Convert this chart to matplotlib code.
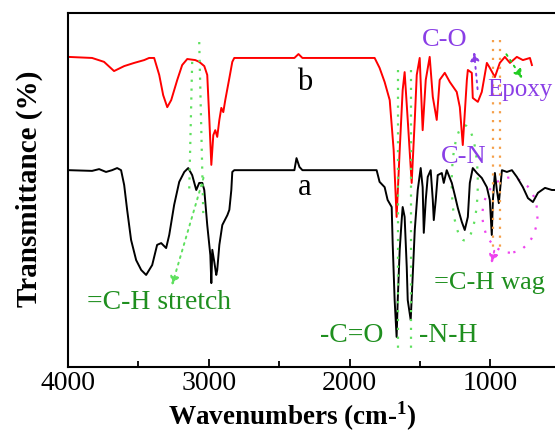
import numpy as np
import matplotlib
matplotlib.use("Agg")
import matplotlib.pyplot as plt
from matplotlib.patches import Ellipse

# ----------------------------
# Data (wavenumber, transmittance)
# ----------------------------
wn_b = [4000, 3829, 3744, 3673, 3601, 3530, 3459, 3424, 3388, 3352, 3324, 3295, 3267,
        3224, 3189, 3153, 3096, 3068, 3032, 3011, 2996, 2982, 2968, 2954, 2940, 2925,
        2911, 2897, 2883, 2854, 2833, 2819, 2392, 2363, 2335, 1822, 1787, 1751, 1715,
        1687, 1666, 1644, 1623, 1609, 1587, 1559, 1537, 1523, 1502, 1481, 1459, 1431,
        1409, 1381, 1360, 1324, 1288, 1239, 1217, 1196, 1167, 1160, 1132, 1125, 1089,
        1061, 1025, 1004, 968, 933, 897, 861, 812, 769, 719, 705]
tr_b = [87.6, 87.3, 86.2, 83.6, 85.0, 85.9, 86.7, 87.3, 87.3, 82.5, 76.8, 73.4, 75.4,
        81.1, 85.3, 87.0, 86.7, 86.2, 85.0, 82.5, 69.8, 57.1, 65.5, 66.9, 65.0, 69.8,
        73.2, 72.0, 75.4, 81.6, 86.2, 87.3, 87.3, 88.4, 87.3, 87.3, 84.5, 80.5, 75.4,
        61.3, 42.4, 61.3, 78.2, 83.3, 69.8, 52.0, 69.8, 82.5, 87.3, 66.9, 81.1, 87.6,
        76.3, 69.8, 81.1, 83.1, 80.5, 77.7, 73.4, 62.7, 81.1, 83.9, 83.1, 76.0, 74.9,
        77.7, 85.9, 84.5, 81.9, 85.9, 87.6, 85.9, 87.6, 86.7, 87.3, 85.3]

wn_a = [3993, 3829, 3779, 3730, 3687, 3651, 3623, 3601, 3580, 3552, 3516, 3480, 3445,
        3402, 3367, 3338, 3303, 3281, 3246, 3210, 3174, 3146, 3118, 3089, 3068, 3046,
        3032, 3011, 2989, 2982, 2975, 2961, 2947, 2940, 2925, 2904, 2868, 2854, 2840,
        2833, 2819, 2392, 2377, 2356, 2335, 1808, 1787, 1751, 1730, 1701, 1694, 1680,
        1666, 1658, 1644, 1630, 1623, 1609, 1594, 1587, 1566, 1552, 1537, 1516, 1495,
        1481, 1473, 1459, 1445, 1424, 1409, 1402, 1388, 1374, 1345, 1331, 1310, 1274,
        1253, 1231, 1203, 1182, 1160, 1146, 1125, 1096, 1061, 1025, 1004, 990, 982,
        968, 954, 940, 918, 883, 847, 812, 769, 733, 698, 662, 612, 563, 541]
tr_a = [55.6, 55.4, 55.9, 55.1, 55.6, 56.2, 55.6, 51.4, 44.4, 35.9, 30.2, 27.4, 26.0,
        28.8, 34.5, 35.0, 33.6, 37.3, 45.8, 52.3, 55.1, 56.2, 54.2, 50.0, 52.0, 52.0,
        50.0, 40.1, 31.6, 23.7, 33.1, 29.7, 26.0, 27.4, 34.5, 40.1, 42.9, 44.4, 50.0,
        55.1, 55.6, 55.6, 59.0, 56.5, 55.6, 55.6, 52.3, 50.8, 47.2, 45.2, 35.0, 18.9,
        8.5, 18.9, 33.1, 41.5, 45.2, 42.4, 28.2, 18.9, 13.3, 25.4, 38.7, 50.0, 56.2,
        50.8, 37.9, 47.2, 53.7, 55.6, 47.2, 41.5, 47.2, 54.2, 54.8, 52.0, 55.6, 52.0,
        48.6, 44.9, 41.0, 38.7, 42.4, 52.0, 56.2, 54.8, 53.4, 50.8, 47.2, 37.3, 47.2,
        54.8, 50.0, 46.3, 55.6, 55.1, 55.6, 53.7, 50.8, 47.7, 46.6, 49.2, 50.6, 50.0, 50.0]

x_ticks = [4000, 3000, 2000, 1000]
x_minor = [3500, 2500, 1500]

PURPLE = "#8a3ee6"
GREEN_TXT = "#1f8f1f"
GREEN_DOT = "#5ee05e"
ORANGE = "#f5a04a"
MAGENTA = "#ee44ee"

plt.rcParams["font.family"] = ["Liberation Serif", "DejaVu Serif"]
plt.rcParams["mathtext.fontset"] = "custom"
plt.rcParams["mathtext.rm"] = "Liberation Serif"
plt.rcParams["mathtext.bf"] = "Liberation Serif:bold"

fig = plt.figure(figsize=(5.55, 4.33), dpi=100)
ax = fig.add_axes([68 / 555, 66 / 433, 1 - 68 / 555, 354 / 433])

ax.plot(wn_b, tr_b, color="red", lw=1.4)
ax.plot(wn_a, tr_a, color="black", lw=1.4)

ax.set_xlim(4000, 541)
ax.set_ylim(0, 100)
ax.set_xticks(x_ticks)
ax.set_xticks(x_minor, minor=True)
ax.set_yticks([])
ax.tick_params(axis="x", which="both", direction="in", labelsize=20, width=1.3, pad=3)
ax.tick_params(axis="x", which="major", length=6)
ax.tick_params(axis="x", which="minor", length=4)
ax.spines["right"].set_visible(False)
for s in ["left", "top", "bottom"]:
    ax.spines[s].set_linewidth(1.5)

fig.text(0.527, 0.038, r"Wavenumbers (cm-$^{\mathbf{1}}$)", ha="center", va="center",
         fontsize=19.5, fontweight="bold")
fig.text(0.052, 0.565, "Transmittance (%)", ha="center", va="center", rotation=90,
         fontsize=21, fontweight="bold")

# curve labels
ax.text(2320, 80.5, "b", fontsize=22, ha="center", va="center")
ax.text(2320, 50.6, "a", fontsize=22, ha="center", va="center")

# dotted guide lines
dot = dict(ls=(0, (1, 3)), lw=1.6)
for w in [1658, 1563]:
    ax.plot([w, w], [83.9, 4.0], color=GREEN_DOT, **dot)
for w in [982, 933]:
    ax.plot([w, w], [92.4, 33.9], color=ORANGE, **dot)
ax.plot([3118, 3139], [86.2, 50.0], color=GREEN_DOT, **dot)
ax.plot([3068, 3039], [91.8, 42.9], color=GREEN_DOT, **dot)

arrow_kw = lambda c: dict(arrowstyle="-|>,head_length=0.5,head_width=0.25", color=c,
                          lw=1.4, linestyle=(0, (1, 2.5)))
ax.annotate("", xy=(3267, 22.3), xytext=(3032, 54.2), arrowprops=arrow_kw(GREEN_DOT))
ax.annotate("", xy=(1118, 89.8), xytext=(1089, 77.7), arrowprops=arrow_kw(PURPLE))
ax.annotate("", xy=(762, 80.8), xytext=(897, 89.0), arrowprops=arrow_kw("#22cc22"))
ax.annotate("", xy=(997, 28.5), xytext=(968, 33.6), arrowprops=arrow_kw(MAGENTA))

ax.add_patch(Ellipse((861, 42.9), 391, 21.2, fill=False, ec=MAGENTA, lw=1.6, ls=(0, (1, 4))))
ax.add_patch(Ellipse((1182, 52.0), 185, 32.5, fill=False, ec=GREEN_DOT, lw=1.6, ls=(0, (1, 4))))

# band annotations
ax.text(1324, 92.4, "C-O", color=PURPLE, fontsize=19, ha="center", va="center")
ax.text(1025, 78.2, "Epoxy", color=PURPLE, fontsize=18, ha="left", va="center")
ax.text(1189, 59.3, "C-N", color=PURPLE, fontsize=19, ha="center", va="center")
ax.text(3352, 18.1, "=C-H stretch", color=GREEN_TXT, fontsize=20, ha="center", va="center")
ax.text(1986, 9.0, "-C=O", color=GREEN_TXT, fontsize=20, ha="center", va="center")
ax.text(1296, 9.0, "-N-H", color=GREEN_TXT, fontsize=20, ha="center", va="center")
ax.text(1004, 23.7, "=C-H wag", color=GREEN_TXT, fontsize=19, ha="center", va="center")

fig.savefig("out.png", dpi=100)
